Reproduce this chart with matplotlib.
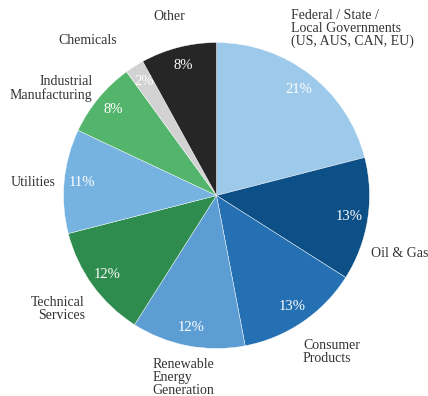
import matplotlib
matplotlib.use("Agg")
from matplotlib import pyplot as plt

# sectors, clockwise from 12 o'clock
sectors = ['Federal / State /\nLocal Governments\n(US, AUS, CAN, EU)', 'Oil & Gas',
           'Consumer\nProducts', 'Renewable\nEnergy\nGeneration', 'Technical\nServices',
           'Utilities', 'Industrial\nManufacturing', 'Chemicals', 'Other']
shares = [21, 13, 13, 12, 12, 11, 8, 2, 8]
colors = ['#9dcaea', '#0d4f87', '#2470b3', '#5c9ed4', '#2f8c4f',
          '#76b3e0', '#53b56b', '#d2d2d2', '#262626']

# where each category label sits (axes units, pie radius = 1) and its alignment
label_xy = [(0.49, 1.09), (1.01, -0.376), (0.565, -1.025), (-0.42, -1.19), (-0.86, -0.745),
            (-1.055, 0.088), (-0.81, 0.70), (-0.65, 1.016), (-0.31, 1.17)]
label_ha = ['left', 'left', 'left', 'left', 'right', 'right', 'right', 'right', 'center']

plt.rcParams['font.family'] = ['Liberation Serif', 'DejaVu Serif']

fig = plt.figure(figsize=(4.28, 3.96), dpi=100)
r = 153
cx, cy = 216.5, 396 - 195.5
ax = fig.add_axes([(cx - r) / 428, (cy - r) / 396, 2 * r / 428, 2 * r / 396])

wedges, texts, autotexts = ax.pie(shares, colors=colors, startangle=90, counterclock=False,
                                  autopct='%d%%', pctdistance=0.88,
                                  wedgeprops=dict(edgecolor='white', linewidth=0.3),
                                  textprops=dict(fontsize=10.5))
for t in autotexts:
    t.set_color('white')

for name, (x, y), ha in zip(sectors, label_xy, label_ha):
    ax.text(x, y, name, ha=ha, va='center', fontsize=10, color='#333333', linespacing=1.0)

ax.set_xlim(-1, 1)
ax.set_ylim(-1, 1)
ax.set_aspect('auto')
ax.axis('off')

fig.savefig('out.png', dpi=100)
